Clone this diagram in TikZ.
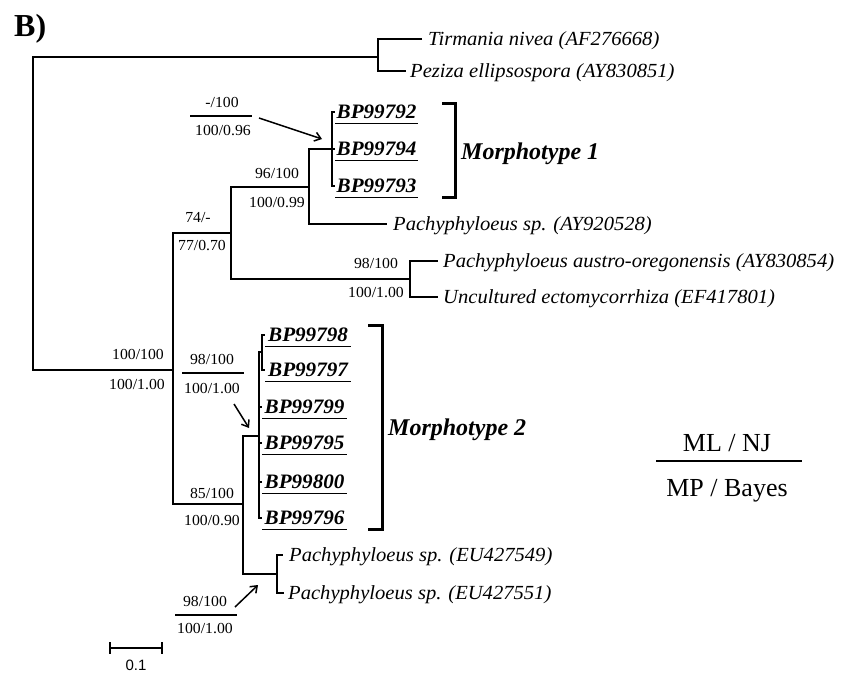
\documentclass[tikz,border=0pt]{standalone}
\usepackage{fontspec}
\setmainfont{Liberation Serif}
\newfontfamily\treefont{Liberation Serif}[FakeStretch=1.03]
\newfontfamily\scalebarfont{Liberation Sans}
\usetikzlibrary{arrows.meta}
\tikzset{
  br/.style={line width=1.3pt},
  leaf/.style={anchor=west, inner ysep=0pt, inner xsep=5pt, text height=13.2pt, text depth=0pt, font=\treefont\itshape\fontsize{20}{22}\selectfont},
  bp/.style={anchor=west, inner ysep=0pt, inner xsep=1.5pt, text height=13.4pt, text depth=0pt, font=\treefont\bfseries\itshape\fontsize{20.5}{22}\selectfont},
  uline/.style={line width=1.8pt},
  bs/.style={inner sep=0pt, text height=10.4pt, text depth=0pt, font=\treefont\fontsize{15.3}{17}\selectfont},
  bar/.style={line width=1.6pt},
  pointer/.style={line width=1.5pt, -{Straight Barb[length=6pt,width=9pt]}},
  clade/.style={anchor=west, inner sep=0pt, text height=15.9pt, text depth=0pt, font=\bfseries\itshape\fontsize{24}{26}\selectfont},
  brk/.style={line width=3pt},
  lg/.style={inner sep=0pt, text height=17.2pt, text depth=0pt, font=\fontsize{26}{28}\selectfont},
}
\begin{document}
\begin{tikzpicture}[x=1pt,y=-1pt]
\useasboundingbox (0,0) rectangle (858,674);
% panel letter
\node[anchor=base west, inner sep=0pt, font=\bfseries\fontsize{32}{34}\selectfont] (panel) at (14,37) {B)};
% internal nodes
\coordinate (R) at (33,57);
\coordinate (A) at (378,57);
\coordinate (B) at (173,370);
\coordinate (C) at (231,233);
\coordinate (D) at (309,187);
\coordinate (E) at (332,149);
\coordinate (F) at (410,279);
\coordinate (G) at (243,504);
\coordinate (H) at (259,436);
\coordinate (I) at (262,352);
\coordinate (J) at (277,574);
% leaves
\node[leaf, inner xsep=6pt] (tir) at (422,39) {Tirmania nivea (AF276668)};
\node[leaf, inner xsep=4pt] (pez) at (406,71) {Peziza ellipsospora (AY830851)};
\node[bp] (b92) at (335,112) {BP99792};
\node[bp] (b94) at (335,149) {BP99794};
\node[bp] (b93) at (335,186) {BP99793};
\node[leaf, inner xsep=6pt] (pAY) at (387,224) {Pachyphyloeus sp. (AY920528)};
\node[leaf] (aus) at (438,261) {Pachyphyloeus austro-oregonensis (AY830854)};
\node[leaf] (unc) at (438,297) {Uncultured ectomycorrhiza (EF417801)};
\node[bp, inner xsep=3pt] (b98) at (265,335) {BP99798};
\node[bp, inner xsep=3pt] (b97) at (265,370) {BP99797};
\node[bp, inner xsep=2.5pt] (b99) at (262,407) {BP99799};
\node[bp, inner xsep=2.5pt] (b95) at (262,443) {BP99795};
\node[bp, inner xsep=2.5pt] (b800) at (262,482) {BP99800};
\node[bp, inner xsep=2.5pt] (b96) at (262,518) {BP99796};
\node[leaf, inner xsep=6pt] (eua) at (283,555) {Pachyphyloeus sp. (EU427549)};
\node[leaf, inner xsep=4pt] (eub) at (284,593) {Pachyphyloeus sp. (EU427551)};
% branches
\draw[br] (A) -- (R) |- (B);
\draw[br] (tir.west) -| (A) |- (pez.west);
\draw[br] (B) |- (C);
\draw[br] (B) |- (G);
\draw[br] (C) |- (D);
\draw[br] (C) |- (F);
\draw[br] (D) |- (E);
\draw[br] (D) |- (pAY.west);
\draw[br] (E) |- (b92.west);
\draw[br] (E) -- (b94.west);
\draw[br] (E) |- (b93.west);
\draw[br] (F) |- (aus.west);
\draw[br] (F) |- (unc.west);
\draw[br] (G) |- (H);
\draw[br] (G) |- (J);
\draw[br] (H) |- (I);
\draw[br] (H) |- (b99.west);
\draw[br] (H) |- (b95.west);
\draw[br] (H) |- (b800.west);
\draw[br] (H) |- (b96.west);
\draw[br] (I) |- (b98.west);
\draw[br] (I) |- (b97.west);
\draw[br] (J) |- (eua.west);
\draw[br] (J) |- (eub.west);
% underlines
\foreach \n in {b92,b94,b93,b98,b97,b99,b95,b800,b96}
  \draw[uline] ([yshift=-4.5pt]\n.south west) -- ([yshift=-4.5pt]\n.south east);
% support values
\node[bs] (sB1) at (138,354) {100/100};
\node[bs] (sB2) at (137,384) {100/1.00};
\node[bs] (sC1) at (198,217) {74/-};
\node[bs] (sC2) at (202,245) {77/0.70};
\node[bs] (sD1) at (277,173) {96/100};
\node[bs] (sD2) at (277,202) {100/0.99};
\node[bs] (sF1) at (376,263) {98/100};
\node[bs] (sF2) at (376,292) {100/1.00};
\node[bs] (sG1) at (212,493) {85/100};
\node[bs] (sG2) at (212,520) {100/0.90};
% callout E
\node[bs] (sE1) at (222,102) {-/100};
\node[bs] (sE2) at (223,130) {100/0.96};
\coordinate (barEl) at (190,116); \coordinate (barEr) at (252,116);
\draw[bar] (barEl) -- (barEr);
\coordinate (arEs) at (259,118); \coordinate (arEe) at (322,139);
\draw[pointer] (arEs) -- (arEe);
% callout H
\node[bs] (sH1) at (212,359) {98/100};
\node[bs] (sH2) at (212,388) {100/1.00};
\coordinate (barHl) at (182,373); \coordinate (barHr) at (244,373);
\draw[bar] (barHl) -- (barHr);
\coordinate (arHs) at (234,404); \coordinate (arHe) at (249,428);
\draw[pointer] (arHs) -- (arHe);
% callout J
\node[bs] (sJ1) at (205,601) {98/100};
\node[bs] (sJ2) at (205,628) {100/1.00};
\coordinate (barJl) at (175,615); \coordinate (barJr) at (237,615);
\draw[bar] (barJl) -- (barJr);
\coordinate (arJs) at (235,607); \coordinate (arJe) at (258,585);
\draw[pointer] (arJs) -- (arJe);
% brackets
\draw[brk] (442,104) -- (455,104) -- (455,197) -- (442,197);
\draw[brk] (368,325) -- (382,325) -- (382,529) -- (368,529);
\node[clade] (m1) at (461,152) {Morphotype 1};
\node[clade] (m2) at (388,428) {Morphotype 2};
% legend
\node[lg] (lgt) at (727,443) {ML / NJ};
\node[lg] (lgb) at (727,488) {MP / Bayes};
\coordinate (lgl) at (656,461); \coordinate (lgr) at (802,461);
\draw[bar] (lgl) -- (lgr);
% scale bar
\coordinate (sc1) at (110,648); \coordinate (sc2) at (162,648);
\draw[line width=1.3pt] (sc1) -- (sc2);
\draw[line width=1.3pt] ([yshift=6pt]sc1) -- ([yshift=-6pt]sc1);
\draw[line width=1.3pt] ([yshift=6pt]sc2) -- ([yshift=-6pt]sc2);
\node[inner sep=0pt, font=\scalebarfont\fontsize{15}{17}\selectfont] (sclab) at (136,665) {0.1};
\end{tikzpicture}
\end{document}
